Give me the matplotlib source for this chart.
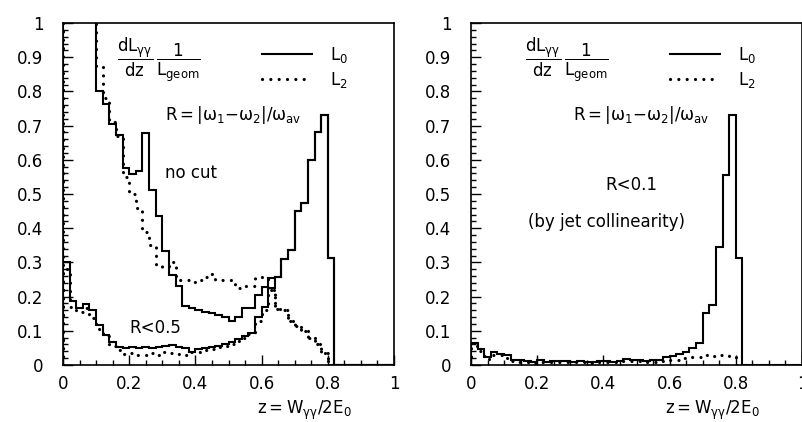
import numpy as np
import matplotlib
matplotlib.use("Agg")
import matplotlib.pyplot as plt
from matplotlib.lines import Line2D
from matplotlib.ticker import MultipleLocator

# bin edges: 50 bins of width 0.02 in z = W/2E0
edges = np.round(np.arange(51) * 0.02, 2)

# --- left panel: no cut and R<0.5 ---
# L0 (solid); above z=0.62 both cuts coincide
l0_tail = [0.258, 0.311, 0.336, 0.451, 0.474, 0.599, 0.682, 0.731, 0.312,
           0, 0, 0, 0, 0, 0, 0, 0, 0]
l0_nocut_head = [3.0, 2.4, 1.9, 1.5, 1.2, 0.80, 0.763, 0.705, 0.672, 0.575,
                 0.558, 0.566, 0.677, 0.512, 0.437, 0.333, 0.263, 0.231, 0.172, 0.166,
                 0.161, 0.156, 0.151, 0.146, 0.141, 0.130, 0.139, 0.166, 0.166, 0.205,
                 0.227, 0.253]
l0_cut05_head = [0.30, 0.188, 0.166, 0.178, 0.161, 0.117, 0.088, 0.068, 0.054, 0.049,
                 0.054, 0.049, 0.054, 0.049, 0.054, 0.057, 0.058, 0.054, 0.049, 0.039,
                 0.046, 0.049, 0.054, 0.056, 0.060, 0.068, 0.075, 0.085, 0.093, 0.141,
                 0.170, 0.224]

# L2 (dotted); above z=0.60 both cuts coincide
l2_tail = [0.22, 0.165, 0.16, 0.13, 0.115, 0.10, 0.08, 0.06, 0.035,
           0, 0, 0, 0, 0, 0, 0, 0, 0, 0]
l2_nocut_head = [2.8, 2.2, 1.7, 1.4, 1.1, 0.87, 0.78, 0.71, 0.67, 0.55,
                 0.50, 0.46, 0.39, 0.35, 0.29, 0.287, 0.30, 0.25, 0.25, 0.244,
                 0.249, 0.256, 0.266, 0.25, 0.249, 0.249, 0.224, 0.231, 0.23, 0.256,
                 0.256]
l2_cut05_head = [0.28, 0.17, 0.156, 0.166, 0.136, 0.105, 0.085, 0.055, 0.045, 0.032,
                 0.035, 0.029, 0.029, 0.035, 0.029, 0.039, 0.035, 0.032, 0.029, 0.039,
                 0.039, 0.044, 0.046, 0.054, 0.056, 0.06, 0.07, 0.08, 0.09, 0.13,
                 0.16]

# --- right panel: R<0.1 ---
l0_cut01 = [0.063, 0.046, 0.022, 0.038, 0.031, 0.029, 0.016, 0.015, 0.013, 0.008,
            0.016, 0.010, 0.012, 0.012, 0.013, 0.010, 0.013, 0.010, 0.008, 0.012,
            0.013, 0.010, 0.013, 0.019, 0.016, 0.015, 0.013, 0.014, 0.016, 0.022,
            0.026, 0.032, 0.039, 0.049, 0.065, 0.151, 0.175, 0.344, 0.556, 0.731,
            0.312, 0, 0, 0, 0, 0, 0, 0, 0, 0]
l2_cut01 = [0.055, 0.040, 0.017, 0.030, 0.028, 0.020, 0.012, 0.010, 0.010, 0.006,
            0.010, 0.008, 0.008, 0.010, 0.009, 0.008, 0.010, 0.008, 0.006, 0.009,
            0.010, 0.008, 0.010, 0.012, 0.012, 0.011, 0.010, 0.010, 0.012, 0.014,
            0.015, 0.016, 0.020, 0.022, 0.022, 0.028, 0.026, 0.028, 0.029, 0.026,
            0, 0, 0, 0, 0, 0, 0, 0, 0, 0]

plt.rcParams['font.family'] = ['DejaVu Sans']
plt.rcParams['mathtext.fontset'] = 'dejavusans'

FS = 12
DOT_LW = 2.3
DOTS = (0, (0.01, 2.6))


def hist(ax, vals, dotted=False):
    if dotted:
        p = ax.stairs(vals, edges, color='black', linewidth=DOT_LW, linestyle=DOTS)
        p.set_capstyle('round')
    else:
        p = ax.stairs(vals, edges, color='black', linewidth=1.5)
    return p


def style_axes(ax):
    ax.set_xlim(0, 1)
    ax.set_ylim(0, 1)
    ax.xaxis.set_major_locator(MultipleLocator(0.2))
    ax.xaxis.set_minor_locator(MultipleLocator(0.05))
    ax.yaxis.set_major_locator(MultipleLocator(0.1))
    ax.yaxis.set_minor_locator(MultipleLocator(0.02))
    ax.xaxis.set_major_formatter(lambda v, p: f"{v:g}")
    ax.yaxis.set_major_formatter(lambda v, p: f"{v:g}")
    ax.tick_params(which='both', direction='in', top=False, right=False,
                   width=1.0, labelsize=FS)
    ax.tick_params(which='major', length=7)
    ax.tick_params(which='minor', length=3.5)
    ax.tick_params(axis='y', which='major', pad=14)
    ax.tick_params(axis='x', which='major', pad=7)
    for s in ax.spines.values():
        s.set_linewidth(1.2)
    ax.text(0.163, 0.892, r"$\mathregular{\dfrac{dL_{\gamma\gamma}}{dz}\,\dfrac{1}{L_{geom}}}$",
            transform=ax.transAxes, fontsize=FS, va='center', ha='left')
    ax.text(0.308, 0.731, r"$\mathregular{R{=}|\omega_1{-}\omega_2|/\omega_{av}}$",
            transform=ax.transAxes, fontsize=FS, va='center', ha='left')
    ax.text(0.73, -0.132, r"$\mathregular{z{=}W_{\gamma\gamma}/2E_0}$",
            transform=ax.transAxes, fontsize=FS, va='center', ha='center')
    solid = Line2D([], [], color='black', linewidth=1.5)
    dotted = Line2D([], [], color='black', linewidth=DOT_LW, linestyle=DOTS,
                    dash_capstyle='round')
    ax.legend([solid, dotted], [r"$\mathregular{L_0}$", r"$\mathregular{L_2}$"],
              loc='center left', bbox_to_anchor=(0.60, 0.87), frameon=False,
              fontsize=FS, handlelength=3.0, handletextpad=1.1,
              labelspacing=0.3, borderpad=0, borderaxespad=0)


fig = plt.figure(figsize=(8.02, 4.22), dpi=100)
ax1 = fig.add_axes([63 / 802, 57 / 422, 331 / 802, 342 / 422])
ax2 = fig.add_axes([471 / 802, 57 / 422, 331 / 802, 342 / 422])

hist(ax1, l0_nocut_head + l0_tail)
hist(ax1, l0_cut05_head + l0_tail)
hist(ax1, l2_nocut_head + l2_tail, dotted=True)
hist(ax1, l2_cut05_head + l2_tail, dotted=True)

hist(ax2, l0_cut01)
hist(ax2, l2_cut01, dotted=True)

for ax in (ax1, ax2):
    style_axes(ax)

ax1.text(0.308, 0.561, "no cut", transform=ax1.transAxes, fontsize=FS, va='center')
ax1.text(0.202, 0.108, "R<0.5", transform=ax1.transAxes, fontsize=FS, va='center')
ax2.text(0.486, 0.526, "R<0.1", transform=ax2.transAxes, fontsize=FS,
         va='center', ha='center')
ax2.text(0.409, 0.418, "(by jet collinearity)", transform=ax2.transAxes,
         fontsize=FS, va='center', ha='center')

fig.savefig("out.png", dpi=100)
